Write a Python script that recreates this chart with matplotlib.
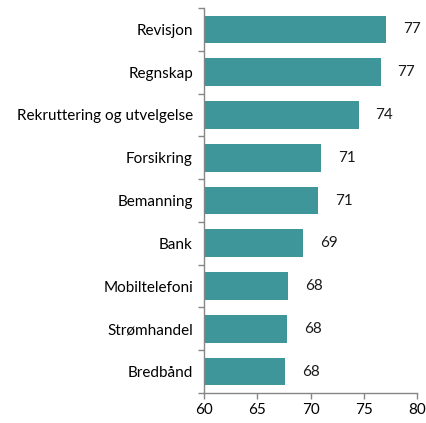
import numpy as np
import matplotlib
matplotlib.use("Agg")
import matplotlib.pyplot as plt

categories = ["Revisjon", "Regnskap", "Rekruttering og utvelgelse", "Forsikring",
              "Bemanning", "Bank", "Mobiltelefoni", "Strømhandel", "Bredbånd"]
values = [77.1, 76.6, 74.5, 71.0, 70.7, 69.3, 67.9, 67.8, 67.6]
labels = ["77", "77", "74", "71", "71", "69", "68", "68", "68"]
xticks = [60, 65, 70, 75, 80]

plt.rcParams['font.family'] = ['Lato', 'DejaVu Sans']

fig = plt.figure(figsize=(4.27, 4.23), dpi=100)
ax = fig.add_axes([0.478, 0.071, 0.499, 0.910])

y = np.arange(len(categories))
ax.barh(y, np.array(values) - 60, left=60, height=0.65, color="#3E969A")

# value labels, a fixed small gap after each bar
for yi, v, lab in zip(y, values, labels):
    ax.annotate(lab, (v, yi), xytext=(12, 0), textcoords="offset points",
                va="center", ha="left", fontsize=11, color="#1a1a1a")

ax.set_xlim(60, 80)
ax.set_ylim(len(categories) - 0.5, -0.5)
ax.set_xticks(xticks)
ax.set_xticklabels([str(t) for t in xticks])

# category ticks sit between bars, labels at bar centres
ax.set_yticks(np.arange(-0.5, len(categories), 1.0))
ax.set_yticklabels([])
ax.set_yticks(y, minor=True)
ax.set_yticklabels(categories, minor=True)
ax.tick_params(axis="y", which="major", length=4, color="#868686", width=1)
ax.tick_params(axis="y", which="minor", length=0, pad=8, labelsize=11)
ax.tick_params(axis="x", length=4, color="#868686", width=1, labelsize=11, pad=3)

for side in ["top", "right"]:
    ax.spines[side].set_visible(False)
for side in ["left", "bottom"]:
    ax.spines[side].set_color("#868686")
    ax.spines[side].set_linewidth(1)

fig.savefig("out.png", dpi=100)
